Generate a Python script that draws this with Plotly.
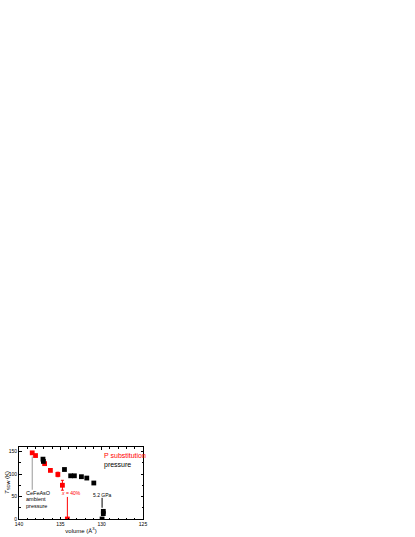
import plotly.graph_objects as go

# P substitution (red) and pressure (black) data
red_vol = [138.4, 138.0, 136.9, 136.2, 135.3, 134.75, 134.15]
red_T = [147, 141, 123, 108, 99, 75, 0]
red_err = [0, 0, 0, 0, 5, 11, 0]

black_vol = [137.1, 137.05, 134.5, 133.75, 133.3, 132.45, 131.8, 130.95, 129.8, 129.8, 129.95]
black_T = [133, 128, 110, 96, 96, 94, 91, 80, 17, 12, 0]

x_ticks = [140, 135, 130, 125]
y_ticks = [0, 50, 100, 150]

FONT = "Liberation Sans, Arial, sans-serif"

fig = go.Figure()

fig.add_trace(go.Scatter(
    x=red_vol, y=red_T, mode="markers", name="P substitution",
    marker=dict(symbol="square", size=4.8, color="#ff0000"),
    error_y=dict(type="data", array=red_err, color="#ff0000", thickness=1, width=1.5),
))
fig.add_trace(go.Scatter(
    x=black_vol, y=black_T, mode="markers", name="pressure",
    marker=dict(symbol="square", size=4.8, color="black"),
))

# pointer lines
fig.add_shape(type="line", x0=red_vol[0], x1=red_vol[0], y0=139, y1=65,
              line=dict(color="#999999", width=1))
fig.add_shape(type="line", x0=red_vol[-1], x1=red_vol[-1], y0=49, y1=0,
              line=dict(color="#ff0000", width=1))
fig.add_shape(type="line", x0=black_vol[-1], x1=black_vol[-1], y0=47, y1=25,
              line=dict(color="black", width=1))

def note(x, y, text, color="black", anchor="left", size=5.5):
    fig.add_annotation(x=x, y=y, text=text, showarrow=False, xanchor=anchor,
                       yanchor="middle", align="left",
                       font=dict(family=FONT, size=size, color=color))

note(139.4, 58, "CeFeAsO", size=5.5)
note(139.4, 44, "ambient", size=5.5)
note(139.4, 30, "pressure", size=5.5)
note(133.7, 58, "<i>x</i> = 40%", color="#ff0000", anchor="center", size=5)
note(129.9, 54, "5.2 GPa", anchor="center", size=5)
note(130.0, 141, "P substitution", color="#ff0000", size=7)
note(130.0, 121, "pressure", size=7)

# y axis title, placed left of the tick labels
fig.add_annotation(x=0, y=0.5, xref="paper", yref="paper", xshift=-12,
                   xanchor="center", yanchor="middle",
                   text="<i>T</i><sub>SDW</sub> (K)", textangle=-90, showarrow=False,
                   font=dict(family=FONT, size=6, color="black"))

axis_common = dict(
    showline=True, linecolor="black", linewidth=1, mirror="ticks",
    ticks="inside", ticklen=2.5, tickcolor="black", tickwidth=1,
    showgrid=False, zeroline=False, automargin=False,
    tickfont=dict(family=FONT, size=5, color="black"),
)

fig.update_xaxes(
    range=[140, 125], tickvals=x_ticks,
    minor=dict(ticks="inside", ticklen=1.5, dtick=1, tickcolor="black"),
    title=dict(text="volume (Å<sup>3</sup>)", font=dict(family=FONT, size=6), standoff=2),
    **axis_common,
)
fig.update_yaxes(
    range=[0, 160], tickvals=y_ticks,
    minor=dict(ticks="inside", ticklen=1.5, dtick=25, tickcolor="black"),
    **axis_common,
)

fig.update_layout(
    width=415, height=537,
    margin=dict(l=19, r=272, t=447, b=18, autoexpand=False),
    paper_bgcolor="white", plot_bgcolor="white",
    showlegend=False,
    font=dict(family=FONT, color="black"),
)

# drop the default page margin so the figure sits at the window's corner
fig.write_html("out.html", config={"displayModeBar": False},
               post_script="document.body.style.margin='0';")
